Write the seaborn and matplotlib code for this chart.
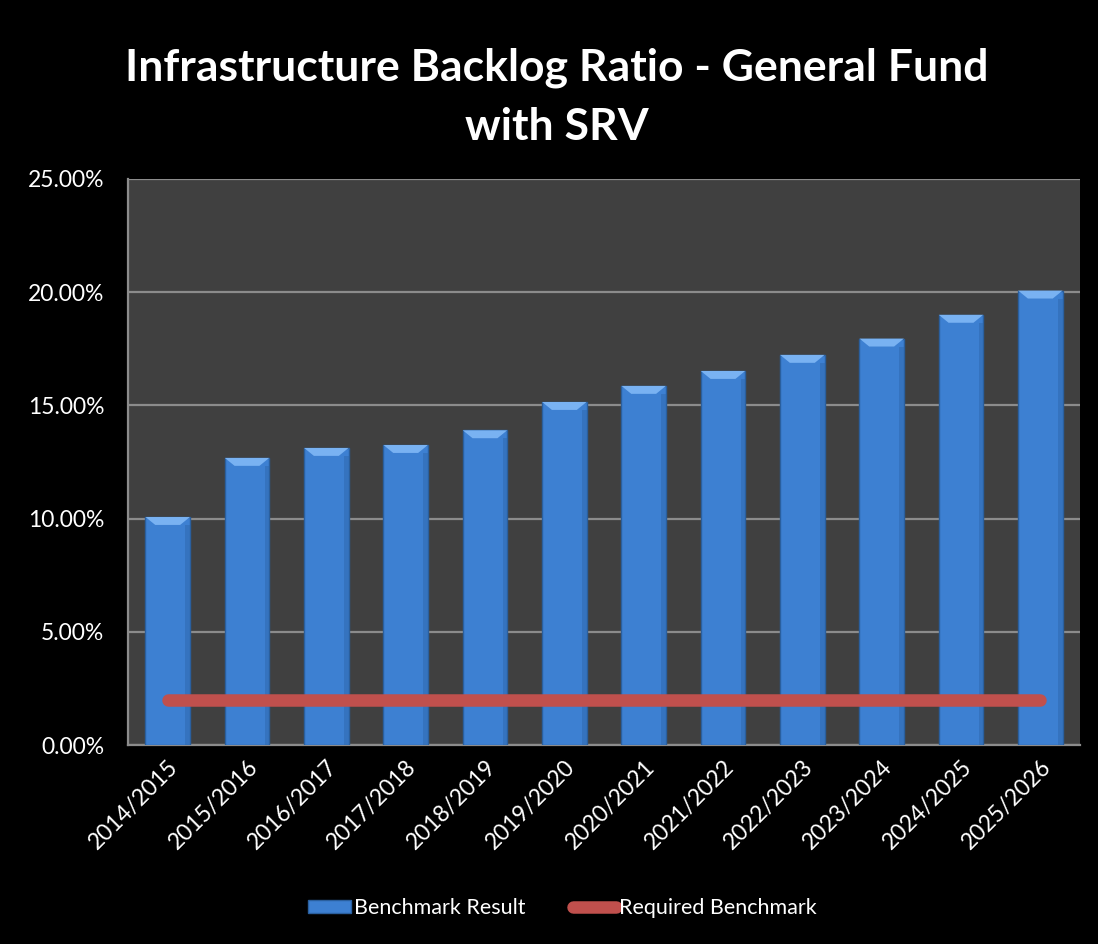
import numpy as np
import pandas as pd
import matplotlib
matplotlib.use("Agg")
import matplotlib.pyplot as plt
import matplotlib.patches as mpatches
from matplotlib.lines import Line2D
from matplotlib.ticker import FuncFormatter, MultipleLocator
import seaborn as sns

# data
years = ["2014/2015", "2015/2016", "2016/2017", "2017/2018", "2018/2019", "2019/2020",
         "2020/2021", "2021/2022", "2022/2023", "2023/2024", "2024/2025", "2025/2026"]
benchmark_result = [10.07, 12.68, 13.12, 13.25, 13.90, 15.15,
                    15.86, 16.52, 17.23, 17.95, 19.00, 20.07]
required_benchmark = [2.0] * 12

bar_color = "#3D80D2"
line_color = "#C0504D"
text_color = "white"

sns.set_style("dark")
plt.rcParams["font.family"] = ["Lato", "DejaVu Sans"]

df = pd.DataFrame({"Year": years, "Result": benchmark_result, "Required": required_benchmark})

fig = plt.figure(figsize=(10.98, 9.44), dpi=100, facecolor="black")
ax = fig.add_axes([0.1166, 0.2108, 0.867, 0.5996])
ax.set_facecolor("#404040")

sns.barplot(data=df, x="Year", y="Result", color=bar_color, saturation=1, width=0.56,
            edgecolor="#2A5F9E", linewidth=1.0, ax=ax, zorder=3)

# bevel highlight on the top of each bar
for patch in ax.patches:
    x0 = patch.get_x()
    w = patch.get_width()
    top = patch.get_y() + patch.get_height()
    d = 0.35
    inset = w * 0.22
    poly = mpatches.Polygon([[x0, top], [x0 + w, top], [x0 + w - inset, top - d], [x0 + inset, top - d]],
                            closed=True, facecolor="#79B2F2", edgecolor="none", zorder=4)
    ax.add_patch(poly)
    shade = mpatches.Rectangle((x0 + w * 0.9, 0), w * 0.1, top - d, facecolor="#2F68AD",
                               edgecolor="none", zorder=4, alpha=0.5)
    ax.add_patch(shade)

sns.lineplot(x=np.arange(len(years)), y=df["Required"], color=line_color, linewidth=9,
             solid_capstyle="round", ax=ax, zorder=5)

ax.set_ylim(0, 25)
ax.set_xlim(-0.5, len(years) - 0.5)
ax.yaxis.set_major_locator(MultipleLocator(5))
ax.yaxis.set_major_formatter(FuncFormatter(lambda v, p: "{:.2f}%".format(v)))
ax.grid(False)
ax.yaxis.grid(True, color="#8C8C8C", linewidth=1.6, zorder=0)
ax.set_axisbelow(True)
for side in ["top", "right"]:
    ax.spines[side].set_visible(False)
for side in ["left", "bottom"]:
    ax.spines[side].set_visible(True)
    ax.spines[side].set_color("#8C8C8C")
    ax.spines[side].set_linewidth(1.6)

ax.set_xlabel("")
ax.set_ylabel("")
ax.tick_params(axis="both", length=0, colors=text_color, labelsize=16.5)
ax.tick_params(axis="y", pad=17)
ax.tick_params(axis="x", pad=8)
plt.setp(ax.get_xticklabels(), rotation=45, ha="right", rotation_mode="anchor")

fig.text(0.507, 0.897, "Infrastructure Backlog Ratio - General Fund\nwith SRV", ha="center", va="center",
         color=text_color, fontsize=32, fontweight="bold", linespacing=1.55)

handles = [mpatches.Patch(facecolor=bar_color, edgecolor="#2A5F9E", label="Benchmark Result"),
           Line2D([0], [0], color=line_color, linewidth=9, solid_capstyle="round", label="Required Benchmark")]
leg = fig.legend(handles=handles, loc="center", bbox_to_anchor=(0.512, 0.038), ncol=2, frameon=False,
                 fontsize=15.5, handlelength=2.0, handleheight=0.5, handletextpad=0.15, columnspacing=2.2)
for t in leg.get_texts():
    t.set_color(text_color)

fig.savefig("out.png", dpi=100, facecolor="black")
